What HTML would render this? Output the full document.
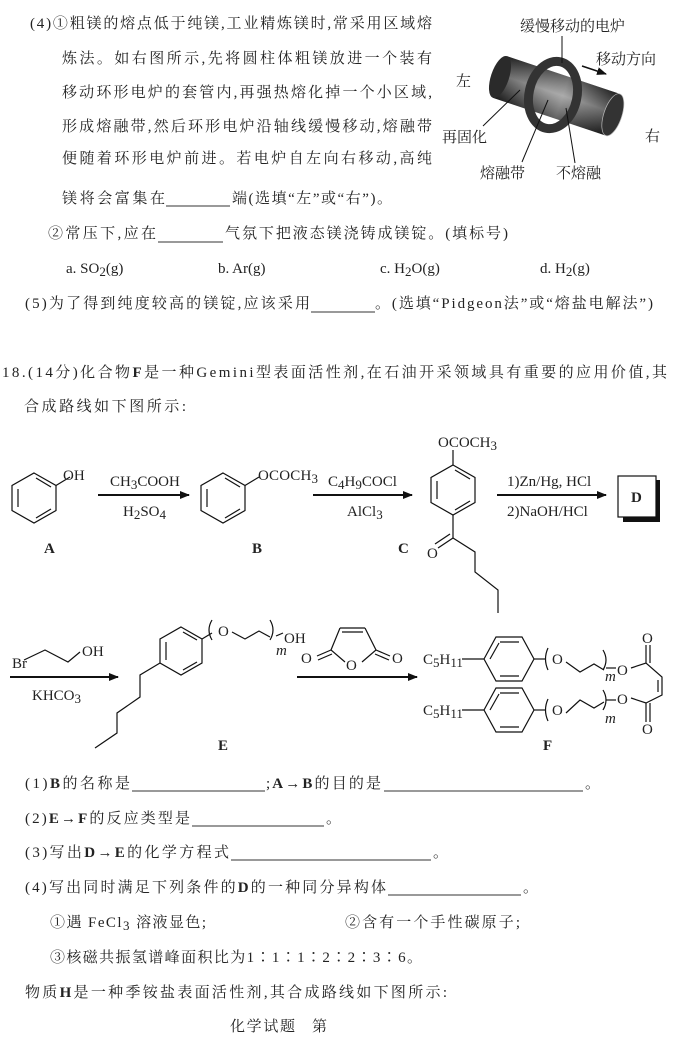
<!DOCTYPE html>
<html><head><meta charset="utf-8"><style>
html,body{margin:0;padding:0;background:#fff;}
svg{display:block;}
text{font-family:"Liberation Serif","Noto Serif CJK SC",serif;font-size:15px;fill:#222;}
.b{font-weight:bold;}
.s{font-size:13px;}
</style></head><body>
<svg width="695" height="1042" viewBox="0 0 695 1042" xmlns="http://www.w3.org/2000/svg">
<defs>
<linearGradient id="cyl" x1="0" y1="0" x2="0" y2="1">
<stop offset="0" stop-color="#2a2a2a"/><stop offset="0.45" stop-color="#888"/><stop offset="1" stop-color="#1e1e1e"/>
</linearGradient>
<linearGradient id="cylh" x1="0" y1="0" x2="1" y2="0">
<stop offset="0" stop-color="#000" stop-opacity="0.4"/><stop offset="0.4" stop-color="#fff" stop-opacity="0.35"/><stop offset="0.55" stop-color="#fff" stop-opacity="0.5"/><stop offset="1" stop-color="#000" stop-opacity="0.5"/>
</linearGradient>
<marker id="ah" markerWidth="10" markerHeight="8" refX="9" refY="4" orient="auto" markerUnits="userSpaceOnUse"><path d="M0,0 L10,4 L0,8 z" fill="#111"/></marker>
</defs>

<!-- top text -->
<text x="30" y="28" textLength="402">(4)①粗镁的熔点低于纯镁,工业精炼镁时,常采用区域熔</text>
<text x="62" y="63" textLength="370">炼法。如右图所示,先将圆柱体粗镁放进一个装有</text>
<text x="62" y="97" textLength="370">移动环形电炉的套管内,再强热熔化掉一个小区域,</text>
<text x="62" y="131" textLength="370">形成熔融带,然后环形电炉沿轴线缓慢移动,熔融带</text>
<text x="62" y="163" textLength="370">便随着环形电炉前进。若电炉自左向右移动,高纯</text>
<text x="62" y="203" textLength="103">镁将会富集在</text>
<line x1="166" y1="206" x2="230" y2="206" stroke="#333" stroke-width="1"/>
<text x="232" y="203" textLength="160">端(选填“左”或“右”)。</text>
<text x="48" y="238" textLength="108">②常压下,应在</text>
<line x1="158" y1="242" x2="223" y2="242" stroke="#333" stroke-width="1"/>
<text x="225" y="238" textLength="283">气氛下把液态镁浇铸成镁锭。(填标号)</text>
<text x="66" y="273">a. SO<tspan class="s" dy="3">2</tspan><tspan dy="-3">(g)</tspan></text>
<text x="218" y="273">b. Ar(g)</text>
<text x="380" y="273">c. H<tspan class="s" dy="3">2</tspan><tspan dy="-3">O(g)</tspan></text>
<text x="540" y="273">d. H<tspan class="s" dy="3">2</tspan><tspan dy="-3">(g)</tspan></text>
<text x="25" y="308" textLength="285">(5)为了得到纯度较高的镁锭,应该采用</text>
<line x1="311" y1="312" x2="375" y2="312" stroke="#333" stroke-width="1"/>
<text x="375" y="308" textLength="278">。(选填“Pidgeon法”或“熔盐电解法”)</text>
<text x="2" y="377" textLength="665">18.(14分)化合物<tspan class="b">F</tspan>是一种Gemini型表面活性剂,在石油开采领域具有重要的应用价值,其</text>
<text x="24" y="411" textLength="162">合成路线如下图所示:</text>

<!-- top figure -->
<g>
<g transform="translate(500,77) rotate(18.5)">
<rect x="0" y="-22" width="119" height="44" fill="url(#cyl)"/>
<rect x="0" y="-22" width="119" height="44" fill="url(#cylh)" opacity="0.6"/>
<ellipse cx="0" cy="0" rx="9" ry="22" fill="#2a2a2a"/>
<ellipse cx="119" cy="0" rx="9" ry="22" fill="#333" stroke="#bbb" stroke-width="0.7"/>
</g>
<ellipse cx="553" cy="95" rx="24" ry="34" fill="none" stroke="#333" stroke-width="9" transform="rotate(12 553 95)"/>
<text x="520" y="31" textLength="105" font-size="14">缓慢移动的电炉</text>
<line x1="562" y1="36" x2="562" y2="63" stroke="#111" stroke-width="1"/>
<text x="596" y="64" font-size="14">移动方向</text>
<line x1="582" y1="66" x2="606" y2="74" stroke="#111" stroke-width="1.5" marker-end="url(#ah)"/>
<text x="456" y="86" font-size="14">左</text>
<text x="442" y="142" font-size="14">再固化</text>
<line x1="483" y1="126" x2="520" y2="90" stroke="#111" stroke-width="1"/>
<text x="645" y="141" font-size="14">右</text>
<text x="480" y="178" font-size="14">熔融带</text>
<line x1="522" y1="162" x2="548" y2="100" stroke="#111" stroke-width="1"/>
<text x="556" y="178" font-size="14">不熔融</text>
<line x1="575" y1="163" x2="566" y2="108" stroke="#111" stroke-width="1"/>
</g>

<!-- scheme row 1 -->
<g stroke="#111" stroke-width="1.2" fill="none">
<!-- A -->
<polygon points="34,473 56,485.5 56,510.5 34,523 12,510.5 12,485.5"/>
<line x1="18" y1="489" x2="18" y2="507"/><line x1="36" y1="518" x2="51" y2="509"/><line x1="36" y1="478" x2="51" y2="487"/>
<line x1="56" y1="485.5" x2="70" y2="477"/>
<!-- B -->
<polygon points="223,473 245,485.5 245,510.5 223,523 201,510.5 201,485.5"/>
<line x1="207" y1="489" x2="207" y2="507"/><line x1="225" y1="518" x2="240" y2="509"/><line x1="225" y1="478" x2="240" y2="487"/>
<line x1="245" y1="485.5" x2="259" y2="477"/>
<!-- C -->
<polygon points="453,465 475,477.5 475,502.5 453,515 431,502.5 431,477.5"/>
<line x1="437" y1="481" x2="437" y2="499"/><line x1="455" y1="470" x2="470" y2="479"/><line x1="455" y1="510" x2="470" y2="501"/>
<line x1="453" y1="465" x2="453" y2="450"/>
<line x1="453" y1="515" x2="453" y2="538"/>
<line x1="453" y1="538" x2="438" y2="548"/><line x1="450" y1="534" x2="435" y2="544"/>
<polyline points="453,538 475,552 475,572 498,590 498,613"/>
</g>
<text x="63" y="480" font-size="14">OH</text>
<text x="44" y="553" class="b" font-size="14">A</text>
<text x="258" y="480" font-size="14" textLength="60">OCOCH<tspan class="s" dy="3">3</tspan></text>
<text x="252" y="553" class="b" font-size="14">B</text>
<text x="438" y="447" font-size="14">OCOCH<tspan class="s" dy="3">3</tspan></text>
<text x="427" y="558" font-size="14">O</text>
<text x="398" y="553" class="b" font-size="14">C</text>
<line x1="98" y1="495" x2="189" y2="495" stroke="#111" stroke-width="2" marker-end="url(#ah)"/>
<text x="110" y="486" font-size="14">CH<tspan class="s" dy="3">3</tspan><tspan dy="-3">COOH</tspan></text>
<text x="123" y="516" font-size="14">H<tspan class="s" dy="3">2</tspan><tspan dy="-3">SO</tspan><tspan class="s" dy="3">4</tspan></text>
<line x1="313" y1="495" x2="412" y2="495" stroke="#111" stroke-width="2" marker-end="url(#ah)"/>
<text x="328" y="486" font-size="14">C<tspan class="s" dy="3">4</tspan><tspan dy="-3">H</tspan><tspan class="s" dy="3">9</tspan><tspan dy="-3">COCl</tspan></text>
<text x="347" y="516" font-size="14">AlCl<tspan class="s" dy="3">3</tspan></text>
<line x1="497" y1="495" x2="606" y2="495" stroke="#111" stroke-width="2" marker-end="url(#ah)"/>
<text x="507" y="486" font-size="14">1)Zn/Hg, HCl</text>
<text x="507" y="516" font-size="14">2)NaOH/HCl</text>
<rect x="623" y="480" width="37" height="42" fill="#111"/>
<rect x="618" y="476" width="38" height="41" fill="#fff" stroke="#111" stroke-width="1.2"/>
<text x="631" y="502" class="b" font-size="14">D</text>

<!-- scheme row 2 -->
<g stroke="#111" stroke-width="1.2" fill="none">
<polyline points="24,660 45,650 68,662 80,652"/>
<!-- E ring -->
<polygon points="181,627 202,639 202,663 181,675 160,663 160,639"/>
<line x1="166" y1="642" x2="166" y2="660"/><line x1="183" y1="632" x2="197" y2="640"/><line x1="183" y1="670" x2="197" y2="662"/>
<line x1="202" y1="639" x2="212" y2="633"/>
<polyline points="160,663 140,675 140,697 117,713 117,733 95,748"/>
<path d="M212,620 Q206,630 212,640"/>
<polyline points="232,632 245,639 259,631 270,637"/>
<path d="M270,620 Q276,630 270,640"/>
<line x1="276" y1="636" x2="283" y2="633"/>
<!-- maleic anhydride -->
<line x1="340" y1="628" x2="365" y2="628"/><line x1="342" y1="632" x2="363" y2="632"/>
<polyline points="340,628 331,650 345,662"/><polyline points="365,628 376,650 362,662"/>
<line x1="331" y1="650" x2="317" y2="656"/><line x1="332" y1="654" x2="318" y2="660"/>
<line x1="376" y1="650" x2="390" y2="656"/><line x1="375" y1="654" x2="389" y2="660"/>
<!-- F rings -->
<polygon points="484,659 496,637 522,637 534,659 522,681 496,681"/>
<line x1="500" y1="642" x2="519" y2="642"/><line x1="500" y1="676" x2="519" y2="676"/><line x1="490" y1="659" x2="499" y2="643"/>
<line x1="462" y1="659" x2="484" y2="659"/><line x1="534" y1="659" x2="545" y2="659"/>
<path d="M548,648 Q543,659 548,670"/>
<polyline points="566,662 580,672 594,664 604,670"/>
<path d="M603,650 Q609,660 603,670"/>
<line x1="606" y1="668" x2="616" y2="668"/>
<polygon points="484,710 496,688 522,688 534,710 522,732 496,732"/>
<line x1="500" y1="693" x2="519" y2="693"/><line x1="500" y1="727" x2="519" y2="727"/><line x1="490" y1="710" x2="499" y2="694"/>
<line x1="462" y1="710" x2="484" y2="710"/><line x1="534" y1="710" x2="545" y2="710"/>
<path d="M548,699 Q543,710 548,721"/>
<polyline points="566,713 580,700 594,708 604,702"/>
<path d="M603,690 Q609,700 603,710"/>
<line x1="606" y1="700" x2="616" y2="700"/>
<!-- maleate -->
<polyline points="631,668 646,663 662,677 662,695 646,703 631,698"/>
<line x1="658" y1="680" x2="658" y2="692"/>
<line x1="646" y1="663" x2="646" y2="645"/><line x1="650" y1="663" x2="650" y2="645"/>
<line x1="646" y1="703" x2="646" y2="722"/><line x1="650" y1="703" x2="650" y2="722"/>
</g>
<text x="12" y="668" font-size="14">Br</text>
<text x="82" y="656" font-size="14">OH</text>
<line x1="10" y1="677" x2="118" y2="677" stroke="#111" stroke-width="2" marker-end="url(#ah)"/>
<text x="32" y="700" font-size="14">KHCO<tspan class="s" dy="3">3</tspan></text>
<text x="218" y="636" font-size="14">O</text>
<text x="276" y="655" font-size="11" font-style="italic">m</text>
<text x="284" y="643" font-size="14">OH</text>
<text x="218" y="750" class="b" font-size="14">E</text>
<text x="301" y="663" font-size="14">O</text>
<text x="346" y="670" font-size="14">O</text>
<text x="392" y="663" font-size="14">O</text>
<line x1="297" y1="677" x2="417" y2="677" stroke="#111" stroke-width="2" marker-end="url(#ah)"/>
<text x="423" y="664" font-size="14">C<tspan class="s" dy="3">5</tspan><tspan dy="-3">H</tspan><tspan class="s" dy="3">11</tspan></text>
<text x="552" y="664" font-size="14">O</text>
<text x="605" y="681" font-size="11" font-style="italic">m</text>
<text x="617" y="675" font-size="14">O</text>
<text x="642" y="643" font-size="14">O</text>
<text x="423" y="715" font-size="14">C<tspan class="s" dy="3">5</tspan><tspan dy="-3">H</tspan><tspan class="s" dy="3">11</tspan></text>
<text x="552" y="715" font-size="14">O</text>
<text x="605" y="723" font-size="11" font-style="italic">m</text>
<text x="617" y="704" font-size="14">O</text>
<text x="642" y="734" font-size="14">O</text>
<text x="543" y="750" class="b" font-size="14">F</text>

<!-- questions -->
<text x="25" y="788" textLength="105">(1)<tspan class="b">B</tspan>的名称是</text>
<line x1="132" y1="791" x2="265" y2="791" stroke="#333"/>
<text x="266" y="788" textLength="115">;<tspan class="b">A→B</tspan>的目的是</text>
<line x1="384" y1="791" x2="583" y2="791" stroke="#333"/>
<text x="585" y="788">。</text>
<text x="25" y="823" textLength="165">(2)<tspan class="b">E→F</tspan>的反应类型是</text>
<line x1="192" y1="826" x2="324" y2="826" stroke="#333"/>
<text x="326" y="823">。</text>
<text x="25" y="857" textLength="204">(3)写出<tspan class="b">D→E</tspan>的化学方程式</text>
<line x1="231" y1="860" x2="431" y2="860" stroke="#333"/>
<text x="433" y="857">。</text>
<text x="25" y="892" textLength="361">(4)写出同时满足下列条件的<tspan class="b">D</tspan>的一种同分异构体</text>
<line x1="388" y1="895" x2="521" y2="895" stroke="#333"/>
<text x="523" y="892">。</text>
<text x="50" y="927" textLength="156">①遇 FeCl<tspan class="s" dy="3">3</tspan><tspan dy="-3"> 溶液显色;</tspan></text>
<text x="345" y="927" textLength="175">②含有一个手性碳原子;</text>
<text x="50" y="962" textLength="372">③核磁共振氢谱峰面积比为1∶1∶1∶2∶2∶3∶6。</text>
<text x="25" y="997" textLength="422">物质<tspan class="b">H</tspan>是一种季铵盐表面活性剂,其合成路线如下图所示:</text>
<text x="230" y="1031" textLength="65">化学试题</text>
<text x="312" y="1031">第</text>
<!-- faded corner -->
<polygon points="330,1000 440,1000 440,1042 360,1042" fill="#fff" opacity="0.7"/>
</svg>
</body></html>
